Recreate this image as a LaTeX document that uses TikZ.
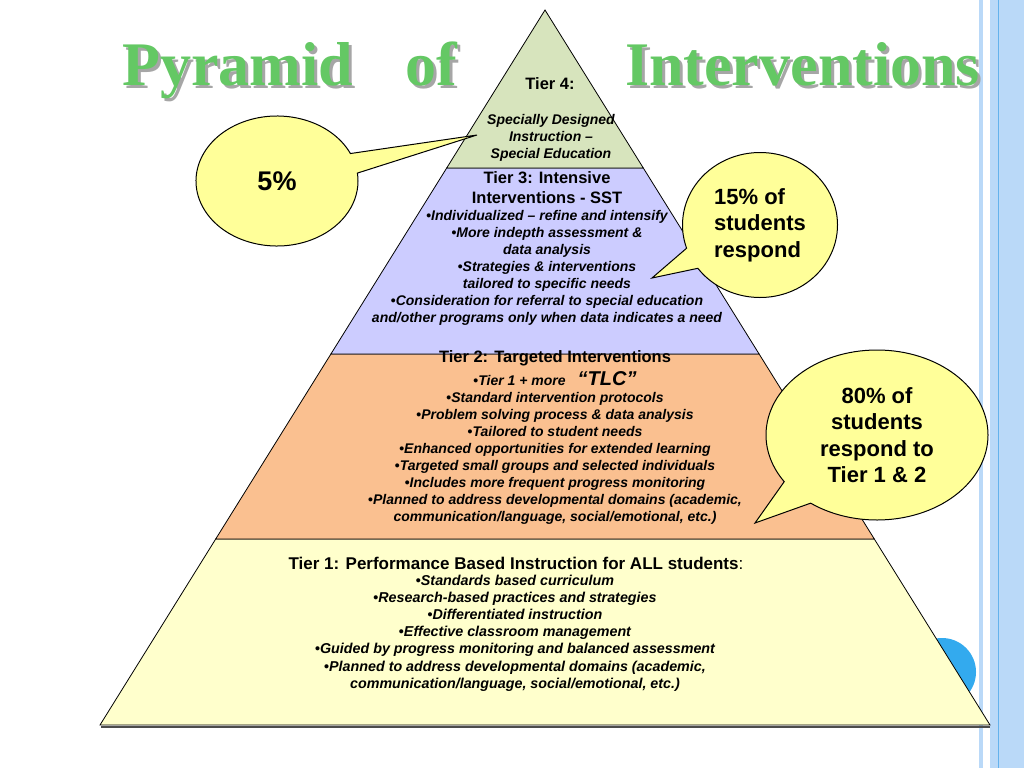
\documentclass[tikz,border=0pt]{standalone}
\usepackage{fontspec}
\setmainfont{Liberation Sans}
\newfontfamily\titleserif{Liberation Serif}
\usetikzlibrary{positioning,shapes.callouts}
\definecolor{tierfour}{RGB}{215,228,189}
\definecolor{tierthree}{RGB}{204,204,255}
\definecolor{tiertwo}{RGB}{250,192,144}
\definecolor{tierone}{RGB}{255,255,204}
\definecolor{bubblefill}{RGB}{255,255,153}
\definecolor{dotblue}{RGB}{51,170,238}
\definecolor{stripe}{RGB}{186,217,248}
\definecolor{stripeline}{RGB}{100,178,236}
\definecolor{titlegreen}{RGB}{100,200,100}
\newcommand{\bul}{{\upshape\textbullet}}
\tikzset{
  tier/.style={draw=black,line width=0.8pt},
  headtext/.style={align=center,inner sep=0pt,font=\bfseries\fontsize{16.5}{20}\selectfont},
  bodytext/.style={align=center,inner sep=0pt,font=\bfseries\itshape\fontsize{14}{17}\selectfont},
  bubble/.style={ellipse callout,draw=black,line width=1pt,fill=bubblefill,
    font=\bfseries\fontsize{22}{26.5}\selectfont},
  titleword/.style={anchor=base west,inner sep=0pt,text=titlegreen,
    font=\titleserif\bfseries\fontsize{62}{62}\selectfont},
  titleshade/.style={titleword,text=gray!70}
}
\begin{document}
\begin{tikzpicture}[x=1pt,y=-1pt]
\useasboundingbox (0,0) rectangle (1024,768);
% right border
\fill[stripe] (979,0) rectangle (983,768);
\fill[stripe] (990,0) rectangle (1024,768);
\draw[stripeline,line width=1pt] (998,0) -- (998,768);
% blue dot behind the base
\fill[dotblue] (942,672) circle (34);
%
\node[titleshade] at (125,88) {Pyramid};
\node[titleshade] at (408,88) {of};
\node[titleshade] at (628,88) {Interventions};
\node[titleword] (w1) at (122,85) {Pyramid};
\node[titleword] (w2) at (405,85) {of};
\node[titleword] (w3) at (625,85) {Interventions};
%
\draw[gray!60!black,line width=2pt] (101,726.5) -- (990,726.5);
\filldraw[tier,fill=tierone] (215.7,539) -- (874.3,539) -- (990,725) -- (100,725) -- cycle;
\filldraw[tier,fill=tiertwo] (330.9,354) -- (759.1,354) -- (874.3,539) -- (215.7,539) -- cycle;
\filldraw[tier,fill=tierthree] (446.7,168) -- (643.3,168) -- (759.1,354) -- (330.9,354) -- cycle;
\filldraw[tier,fill=tierfour] (545,10) -- (643.3,168) -- (446.7,168) -- cycle;
%
\node[headtext,font=\bfseries\fontsize{16.5}{17}\selectfont] (t4h) at (550,84) {Tier 4:};
\node[bodytext,font=\bfseries\itshape\fontsize{14}{16.8}\selectfont] (t4b) at (551,138) {Specially Designed\\Instruction –\\Special Education};
%
\node[headtext] (t3h) at (547,188) {Tier 3: Intensive\\Interventions - SST};
\node[bodytext] (t3b) at (547,268) {\bul Individualized – refine and intensify\\
  \bul More indepth assessment \&\\data analysis\\
  \bul Strategies \& interventions\\tailored to specific needs\\
  \bul Consideration for referral to special education\\
  and/other programs only when data indicates a need};
%
\node[headtext] (t2h) at (555,358) {Tier 2: Targeted Interventions};
\node[bodytext] (t2b) at (555,448) {\bul Tier 1 + more\hspace{12pt}{\fontsize{20}{17}\selectfont “TLC”}\\
  \bul Standard intervention protocols\\
  \bul Problem solving process \& data analysis\\
  \bul Tailored to student needs\\
  \bul Enhanced opportunities for extended learning\\
  \bul Targeted small groups and selected individuals\\
  \bul Includes more frequent progress monitoring\\
  \bul Planned to address developmental domains (academic,\\
  communication/language, social/emotional, etc.)};
%
\node[headtext,font=\bfseries\fontsize{17}{20}\selectfont] (t1h) at (516,563) {Tier 1: Performance Based Instruction for ALL students{\mdseries :}};
\node[bodytext,font=\bfseries\itshape\fontsize{14.3}{17.2}\selectfont] (t1b) at (515,633) {\bul Standards based curriculum\\
  \bul Research-based practices and strategies\\
  \bul Differentiated instruction\\
  \bul Effective classroom management\\
  \bul Guided by progress monitoring and balanced assessment\\
  \bul Planned to address developmental domains (academic,\\
  communication/language, social/emotional, etc.)};
%
\coordinate (p5) at (477,135);
\coordinate (p15) at (652,278);
\coordinate (p80) at (755,523);
\node[bubble,minimum width=162,minimum height=130,callout pointer arc=18,
  callout absolute pointer={(p5)},font=\bfseries\fontsize{27}{30}\selectfont] (c5) at (277,181) {5\%};
\node[bubble,minimum width=155,minimum height=145,callout pointer arc=18,
  callout absolute pointer={(p15)},align=left] (c15) at (760,225) {15\% of\\students\\respond};
\node[bubble,minimum width=222,minimum height=170,callout pointer arc=20,
  callout absolute pointer={(p80)},align=center] (c80) at (877,435) {80\% of\\students\\respond to\\Tier 1 \& 2};
\end{tikzpicture}
\end{document}
